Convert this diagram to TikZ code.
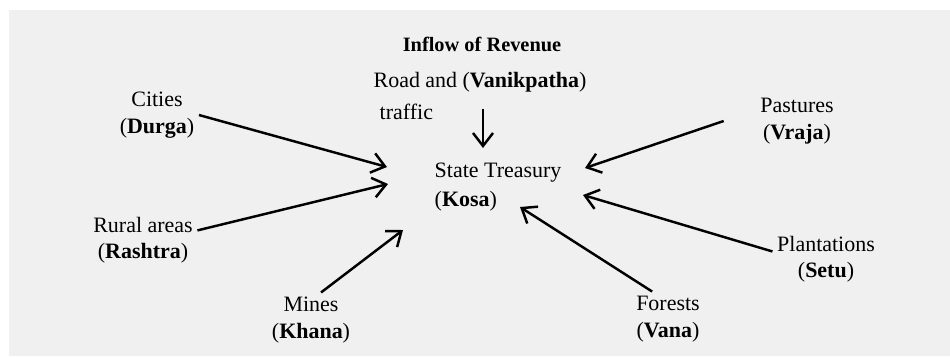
\documentclass[tikz,border=0pt]{standalone}
\usepackage{fontspec}
\setmainfont{Liberation Serif}
\usetikzlibrary{arrows.meta}
\definecolor{paper}{gray}{0.94}

\begin{document}
\begin{tikzpicture}[x=0.02cm,y=-0.02cm,line width=1.4pt,>={Straight Barb[length=2.6mm,width=4mm]},
  lbl/.style={align=center,inner sep=2pt,font=\fontsize{12.5}{15}\selectfont}]
  \useasboundingbox (0,0) rectangle (950,356);
  \fill[paper] (9,10) rectangle (950,356);
  % titulo y tesoro
  \node[font=\fontsize{11.6}{14}\selectfont\bfseries] (title) at (482,44) {Inflow of Revenue};
  \node[lbl,align=left,anchor=west] (treasury) at (430,187) {State Treasury\\[2pt](\textbf{Kosa})};
  % fuentes de ingreso
  \node[lbl] (road) at (480,82) {Road and (\textbf{Vanikpatha})};
  \node[lbl,anchor=west] (traffic) at (375,112) {traffic};
  \node[lbl] (cities) at (157,115) {Cities\\(\textbf{Durga})};
  \node[lbl] (rural) at (143,240) {Rural areas\\(\textbf{Rashtra})};
  \node[lbl] (mines) at (311,320) {Mines\\(\textbf{Khana})};
  \node[lbl] (forests) at (668,319) {Forests\\(\textbf{Vana})};
  \node[lbl] (plant) at (826,259) {Plantations\\(\textbf{Setu})};
  \node[lbl] (pastures) at (797,121) {Pastures\\(\textbf{Vraja})};
  % puntas junto al tesoro
  \coordinate (inRoad) at (483,148);
  \coordinate (inCities) at (387,167);
  \coordinate (inRural) at (388,184);
  \coordinate (inMines) at (403,230);
  \coordinate (inForests) at (520,207);
  \coordinate (inPlant) at (583,195);
  \coordinate (inPastures) at (585,168);
  % flechas
  \draw[->,shorten <=7pt] (road.south -| inRoad) -- (inRoad);
  \draw[->] (cities.east) -- (inCities);
  \draw[->] (rural.10) -- (inRural);
  \draw[->] (mines.70) -- (inMines);
  \draw[->] (forests.120) -- (inForests);
  \draw[->] (plant.172) -- (inPlant);
  \draw[->] ([xshift=-0.64cm]pastures.west) -- (inPastures);
\end{tikzpicture}
\end{document}
